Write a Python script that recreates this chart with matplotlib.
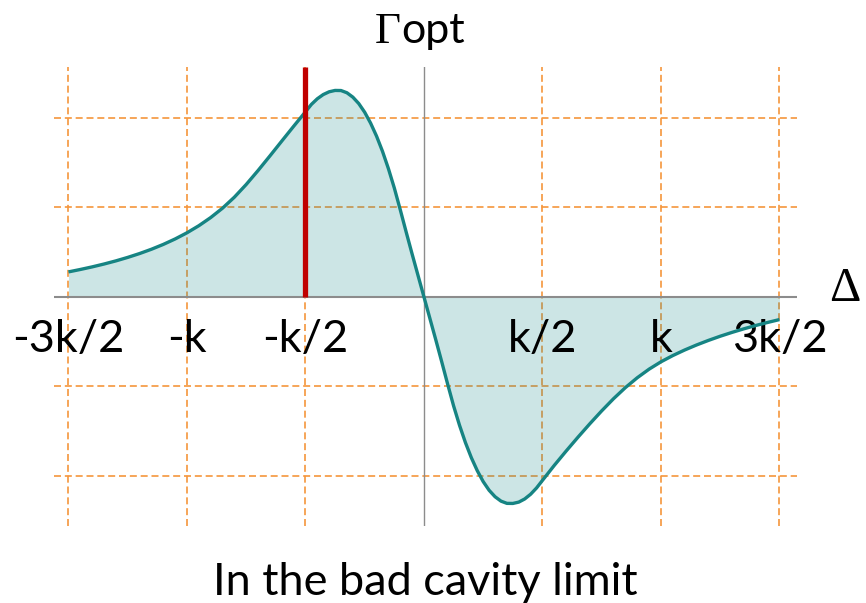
import numpy as np
import matplotlib
matplotlib.use("Agg")
import matplotlib.pyplot as plt

# detuning in units of kappa; finer sampling around the two extrema
delta = [-1.50, -1.45, -1.40, -1.35, -1.30, -1.25, -1.20, -1.15, -1.10, -1.05,
         -1.00, -0.95, -0.90, -0.85, -0.80, -0.75, -0.70, -0.65, -0.60, -0.55,
         -0.500, -0.475, -0.450, -0.425, -0.400, -0.375, -0.350, -0.325,
         -0.300, -0.275, -0.250, -0.225, -0.200, -0.175, -0.150, -0.125,
         -0.100, -0.075, -0.050, -0.025, 0.000,
         0.025, 0.050, 0.075, 0.100, 0.125, 0.150, 0.175, 0.200, 0.225,
         0.250, 0.275, 0.300, 0.325, 0.350, 0.375, 0.400, 0.425, 0.450,
         0.475, 0.500,
         0.55, 0.60, 0.65, 0.70, 0.75, 0.80, 0.85, 0.90, 0.95, 1.00,
         1.05, 1.10, 1.15, 1.20, 1.25, 1.30, 1.35, 1.40, 1.45, 1.50]
# optical damping rate, arbitrary units
gamma_opt = [0.280, 0.307, 0.336, 0.368, 0.403, 0.442, 0.485, 0.533, 0.587, 0.648,
             0.717, 0.796, 0.887, 0.992, 1.115, 1.257, 1.413, 1.576, 1.742, 1.907,
             2.069, 2.152, 2.215, 2.262, 2.293, 2.308, 2.307, 2.282,
             2.233, 2.161, 2.064, 1.942, 1.797, 1.628, 1.434, 1.217,
             0.975, 0.725, 0.480, 0.240, 0.000,
             -0.240, -0.480, -0.725, -0.975, -1.217, -1.434, -1.628, -1.797, -1.942,
             -2.064, -2.161, -2.233, -2.282, -2.307, -2.308, -2.293, -2.258, -2.205,
             -2.135, -2.050,
             -1.882, -1.722, -1.567, -1.417, -1.273, -1.137, -1.013, -0.903, -0.807, -0.725,
             -0.655, -0.593, -0.537, -0.486, -0.439, -0.396, -0.356, -0.319, -0.285, -0.253]

tick_pos = [-1.5, -1.0, -0.5, 0.5, 1.0, 1.5]
tick_labels = ["-3k/2", "-k", "-k/2", "k/2", "k", "3k/2"]
grid_y = [-2, -1, 1, 2]
marker_delta = -0.5

W, H = 866, 603
fig = plt.figure(figsize=(W / 100, H / 100), dpi=100)
ax = fig.add_axes([54 / W, 1 - 526 / H, (797 - 54) / W, (526 - 67) / H])
ax.set_xlim(-1.561, 1.574)
ax.set_ylim(-2.56, 2.57)
ax.axis("off")

orange = "#F5963C"
for x in tick_pos:
    ax.axvline(x, color=orange, lw=1.2, dashes=(4.2, 2.3), zorder=1)
for y in grid_y:
    ax.axhline(y, color=orange, lw=1.2, dashes=(4.2, 2.3), zorder=1)

ax.fill_between(delta, gamma_opt, 0, color="#1A8A8A", alpha=0.22, lw=0, zorder=2)
ax.axhline(0, color="#8C8C8C", lw=1.5, zorder=3)
ax.axvline(0, color="#8C8C8C", lw=1.0, zorder=3)
ax.plot(delta, gamma_opt, color="#168483", lw=2.4, zorder=4,
        solid_joinstyle="round", solid_capstyle="butt")
ax.plot([marker_delta, marker_delta], [0, 2.57], color="#C00000", lw=3.8,
        zorder=5, solid_capstyle="butt")

sans = "Lato"
for x, lab in zip(tick_pos, tick_labels):
    ax.text(x, -0.615, lab, ha="center", va="baseline", fontsize=32.5,
            family=sans, clip_on=False)

ax.text(1.776, -0.045, "Δ", ha="center", va="baseline", fontsize=35,
        family="Liberation Serif", clip_on=False)

fig.text(375 / W, 1 - 43 / H, "Γ", ha="left", va="baseline", fontsize=32.5,
         family="Liberation Serif")
fig.text(401 / W, 1 - 43 / H, "opt", ha="left", va="baseline", fontsize=31,
         family=sans)

fig.text(425 / W, 1 - 595 / H, "In the bad cavity limit", ha="center",
         va="baseline", fontsize=32.5, family=sans)

fig.savefig("out.png", dpi=100)
